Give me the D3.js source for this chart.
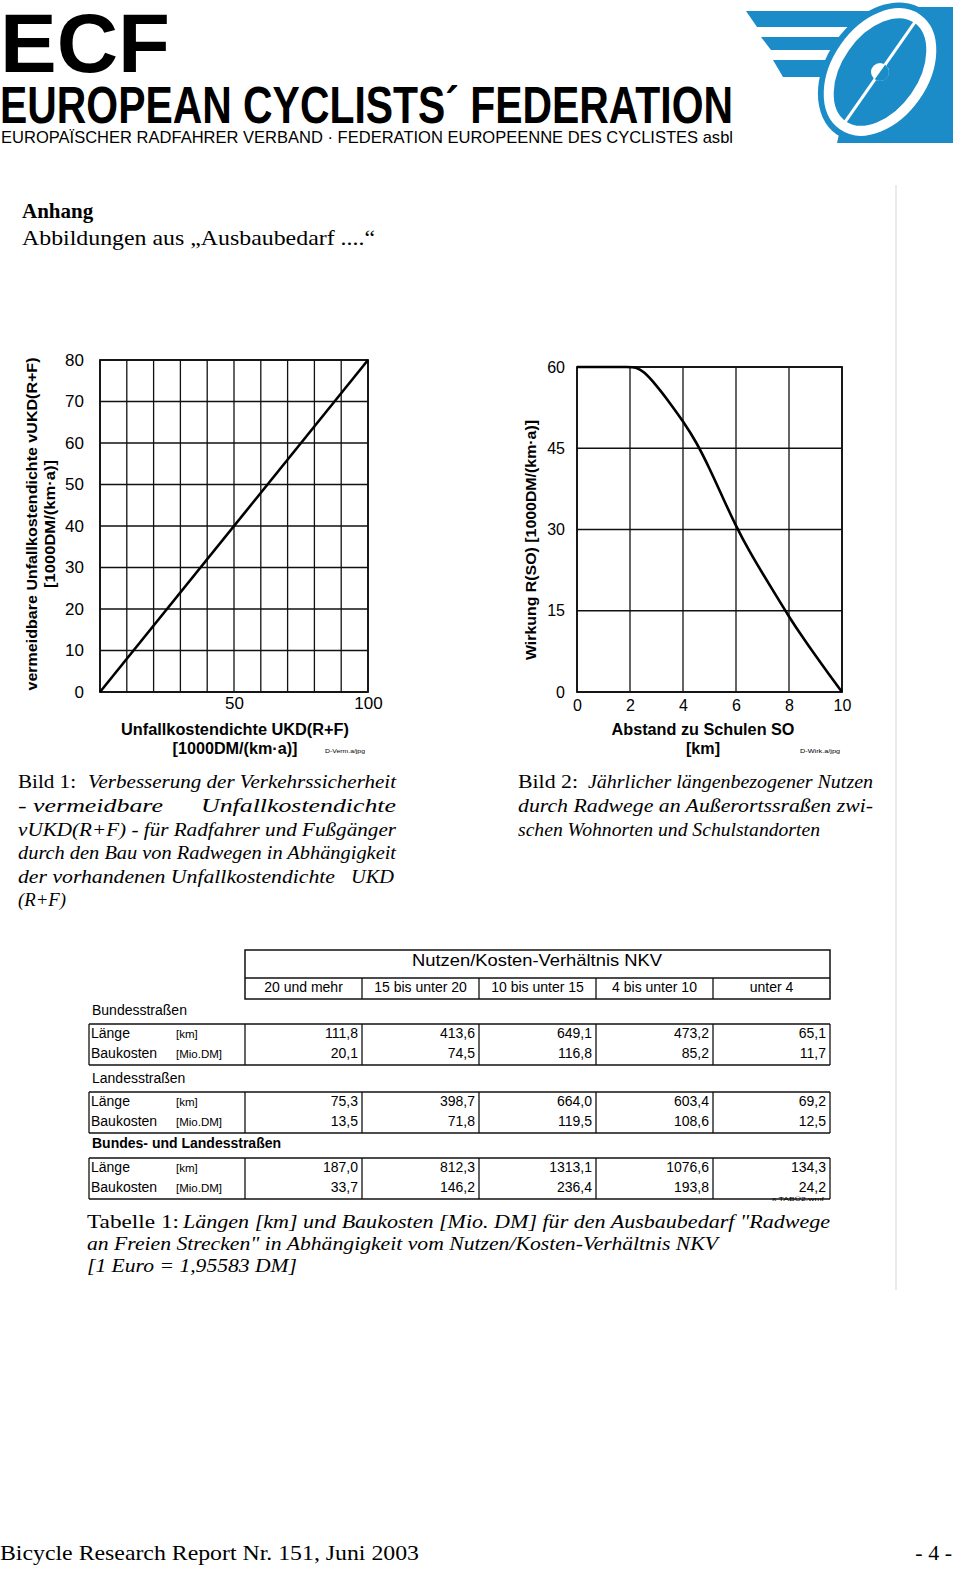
<!DOCTYPE html>
<html>
<head>
<meta charset="utf-8">
<script src="https://cdn.jsdelivr.net/npm/d3@7"></script>
<style>
  body { margin: 0; background: #fff; }
  svg { display: block; }
</style>
</head>
<body>
<script>
// Bild 1: vermeidbare Unfallkostendichte vs. Unfallkostendichte
const ukdValues = [0, 100];
const vukdValues = [0, 80];
const ukdTickLabels = [50, 100];
const vukdTicks = [0, 10, 20, 30, 40, 50, 60, 70, 80];

// Bild 2: Wirkung R(SO) vs. Abstand zu Schulen
const abstandKm = [0, 1, 2, 2.2, 2.5, 3, 3.5, 4, 4.5, 5, 5.5, 6, 6.5, 7, 7.5, 8, 8.5, 9, 9.5, 10];
const wirkung = [60, 60, 60, 60, 59.3, 56.6, 53.4, 50, 46.2, 41.3, 35.9, 30.6, 26.0, 21.9, 17.9, 13.9, 10.2, 6.7, 3.3, 0];
const abstandTicks = [0, 2, 4, 6, 8, 10];
const wirkungTicks = [0, 15, 30, 45, 60];

// Tabelle 1
const nkvClasses = ['20 und mehr', '15 bis unter 20', '10 bis unter 15', '4 bis unter 10', 'unter 4'];
const roadGroups = ['Bundesstraßen', 'Landesstraßen', 'Bundes- und Landesstraßen'];
const rowLabels = [['Länge', '[km]'], ['Baukosten', '[Mio.DM]']];
const laengeKm = [
  [111.8, 413.6, 649.1, 473.2, 65.1],
  [75.3, 398.7, 664.0, 603.4, 69.2],
  [187.0, 812.3, 1313.1, 1076.6, 134.3]
];
const baukostenMio = [
  [20.1, 74.5, 116.8, 85.2, 11.7],
  [13.5, 71.8, 119.5, 108.6, 12.5],
  [33.7, 146.2, 236.4, 193.8, 24.2]
];

const W = 960, H = 1573;
const sans = "'Liberation Sans', Arial, sans-serif";
const serif = "'Liberation Serif', 'Times New Roman', serif";
const blue = '#1b8cc7';

const svg = d3.select('body').append('svg').attr('width', W).attr('height', H);
svg.append('rect').attr('width', W).attr('height', H).attr('fill', '#fff');

// ---------- header ----------
function txt(g, x, y, s, opts) {
  const t = g.append('text').attr('x', x).attr('y', y).text(s)
    .attr('font-family', opts.family || sans)
    .attr('font-size', opts.size)
    .attr('fill', opts.fill || '#000');
  if (opts.weight) t.attr('font-weight', opts.weight);
  if (opts.style) t.attr('font-style', opts.style);
  if (opts.anchor) t.attr('text-anchor', opts.anchor);
  if (opts.len) t.attr('textLength', opts.len).attr('lengthAdjust', 'spacingAndGlyphs');
  return t;
}

txt(svg, 0, 72, 'ECF', { size: 84, weight: 'bold', len: 170 });
txt(svg, 0, 123, 'EUROPEAN CYCLISTS\u00b4 FEDERATION', { size: 52, weight: 'bold', len: 733 });
txt(svg, 1, 143, 'EUROPA\u00cfSCHER RADFAHRER VERBAND \u00b7 FEDERATION EUROPEENNE DES CYCLISTES asbl', { size: 17, len: 732 });

// logo
const logo = svg.append('g');
const stripes = [
  [[746, 11], [900, 11], [890, 27], [757, 27]],
  [[761, 37], [870, 37], [862, 50], [771, 50]],
  [[773, 60], [860, 60], [852, 77], [783, 77]]
];
logo.selectAll('polygon.stripe').data(stripes).enter().append('polygon')
  .attr('points', d => d.map(p => p.join(',')).join(' '))
  .attr('fill', blue);
logo.append('rect').attr('x', 905).attr('y', 7).attr('width', 48).attr('height', 136).attr('fill', blue);
logo.append('polygon').attr('points', '837,143 953,143 953,108 845,108').attr('fill', blue);
logo.append('ellipse').attr('rx', 76).attr('ry', 54)
  .attr('transform', 'translate(880,72) rotate(-55)').attr('fill', blue);
logo.append('ellipse').attr('rx', 65).attr('ry', 43)
  .attr('transform', 'translate(880,72) rotate(-55)')
  .attr('fill', 'none').attr('stroke', '#fff').attr('stroke-width', 10);
logo.append('line').attr('x1', -62).attr('y1', 0).attr('x2', 62).attr('y2', 0)
  .attr('transform', 'translate(880,72) rotate(-55)')
  .attr('stroke', '#fff').attr('stroke-width', 3);
logo.append('circle').attr('cx', 880).attr('cy', 72).attr('r', 9).attr('fill', '#fff');
logo.append('path').attr('d', 'M880,63 A9,9 0 0,1 880,81 Z').attr('fill', blue)
  .attr('transform', 'rotate(35,880,72)');

// page titles
txt(svg, 22, 218, 'Anhang', { family: serif, size: 21, weight: 'bold' });
txt(svg, 22, 245, 'Abbildungen aus \u201eAusbaubedarf ....\u201c', { family: serif, size: 21, len: 353 });

// light vertical rule on the right
svg.append('line').attr('x1', 896).attr('x2', 896).attr('y1', 185).attr('y2', 1290)
  .attr('stroke', '#dcdcdc').attr('stroke-width', 1.2);

// ---------- Bild 1 ----------
const x1 = d3.scaleLinear().domain([0, 100]).range([100, 368]);
const y1 = d3.scaleLinear().domain([0, 80]).range([692, 360]);
const c1 = svg.append('g');

c1.selectAll('line.vg').data(d3.range(0, 101, 10)).enter().append('line')
  .attr('x1', d => x1(d)).attr('x2', d => x1(d))
  .attr('y1', y1(0)).attr('y2', y1(80))
  .attr('stroke', '#111').attr('stroke-width', 1.3);
c1.selectAll('line.hg').data(vukdTicks).enter().append('line')
  .attr('x1', x1(0)).attr('x2', x1(100))
  .attr('y1', d => y1(d)).attr('y2', d => y1(d))
  .attr('stroke', '#111').attr('stroke-width', 1.3);
c1.append('rect').attr('x', x1(0)).attr('y', y1(80))
  .attr('width', x1(100) - x1(0)).attr('height', y1(0) - y1(80))
  .attr('fill', 'none').attr('stroke', '#111').attr('stroke-width', 1.8);

c1.append('path')
  .datum(ukdValues.map((v, i) => [v, vukdValues[i]]))
  .attr('d', d3.line().x(d => x1(d[0])).y(d => y1(d[1])))
  .attr('fill', 'none').attr('stroke', '#000').attr('stroke-width', 2.6);

const ay1 = c1.append('g').attr('transform', `translate(${x1(0)},0)`)
  .call(d3.axisLeft(y1).tickValues(vukdTicks).tickSize(0).tickPadding(16));
const ax1 = c1.append('g').attr('transform', `translate(0,${y1(0)})`)
  .call(d3.axisBottom(x1).tickValues(ukdTickLabels).tickSize(0).tickPadding(5));
[ay1, ax1].forEach(a => {
  a.select('.domain').remove();
  a.selectAll('text').attr('font-family', sans).attr('font-size', 17).attr('fill', '#000');
});

const yt1 = c1.append('g').attr('transform', 'translate(37,524) rotate(-90)');
txt(yt1, 0, 0, 'vermeidbare Unfallkostendichte vUKD(R+F)', { size: 15, weight: 'bold', anchor: 'middle', len: 333 });
txt(yt1, 0, 18, '[1000DM/(km\u00b7a)]', { size: 15, weight: 'bold', anchor: 'middle', len: 128 });
txt(c1, 235, 735, 'Unfallkostendichte UKD(R+F)', { size: 16, weight: 'bold', anchor: 'middle', len: 228 });
txt(c1, 235, 754, '[1000DM/(km\u00b7a)]', { size: 16, weight: 'bold', anchor: 'middle', len: 125 });
txt(c1, 325, 753, 'D-Verm.a/jpg', { size: 5, len: 40 });

// ---------- Bild 2 ----------
const x2 = d3.scaleLinear().domain([0, 10]).range([577, 842]);
const y2 = d3.scaleLinear().domain([0, 60]).range([692, 367]);
const c2 = svg.append('g');

c2.selectAll('line.vg').data(abstandTicks).enter().append('line')
  .attr('x1', d => x2(d)).attr('x2', d => x2(d))
  .attr('y1', y2(0)).attr('y2', y2(60))
  .attr('stroke', '#111').attr('stroke-width', 1.3);
c2.selectAll('line.hg').data(wirkungTicks).enter().append('line')
  .attr('x1', x2(0)).attr('x2', x2(10))
  .attr('y1', d => y2(d)).attr('y2', d => y2(d))
  .attr('stroke', '#111').attr('stroke-width', 1.3);
c2.append('rect').attr('x', x2(0)).attr('y', y2(60))
  .attr('width', x2(10) - x2(0)).attr('height', y2(0) - y2(60))
  .attr('fill', 'none').attr('stroke', '#111').attr('stroke-width', 1.8);

c2.append('path')
  .datum(abstandKm.map((v, i) => [v, wirkung[i]]))
  .attr('d', d3.line().curve(d3.curveBasis).x(d => x2(d[0])).y(d => y2(d[1])))
  .attr('fill', 'none').attr('stroke', '#000').attr('stroke-width', 2.6);

const ay2 = c2.append('g').attr('transform', `translate(${x2(0)},0)`)
  .call(d3.axisLeft(y2).tickValues(wirkungTicks).tickSize(0).tickPadding(12));
const ax2 = c2.append('g').attr('transform', `translate(0,${y2(0)})`)
  .call(d3.axisBottom(x2).tickValues(abstandTicks).tickSize(0).tickPadding(8));
[ay2, ax2].forEach(a => {
  a.select('.domain').remove();
  a.selectAll('text').attr('font-family', sans).attr('font-size', 16).attr('fill', '#000');
});

const yt2 = c2.append('g').attr('transform', 'translate(536,540) rotate(-90)');
txt(yt2, 0, 0, 'Wirkung R(SO) [1000DM/(km\u00b7a)]', { size: 15, weight: 'bold', anchor: 'middle', len: 240 });
txt(c2, 703, 735, 'Abstand zu Schulen SO', { size: 16, weight: 'bold', anchor: 'middle', len: 183 });
txt(c2, 703, 754, '[km]', { size: 16, weight: 'bold', anchor: 'middle', len: 34 });
txt(c2, 800, 753, 'D-Wirk.a/jpg', { size: 5, len: 40 });

// ---------- captions ----------
function captionLine(x, y, parts) {
  parts.forEach(p => txt(svg, p.x, y, p.t, { family: serif, size: 19, style: p.up ? null : 'italic', len: p.w }));
}
captionLine(18, 788, [{ x: 18, t: 'Bild 1:', up: true, w: 58 }, { x: 88, t: 'Verbesserung der Verkehrssicherheit', w: 308 }]);
captionLine(18, 812, [{ x: 18, t: '- vermeidbare', w: 145 }, { x: 201, t: 'Unfallkostendichte', w: 195 }]);
captionLine(18, 836, [{ x: 18, t: 'vUKD(R+F) - f\u00fcr Radfahrer und Fu\u00dfg\u00e4nger', w: 378 }]);
captionLine(18, 859, [{ x: 18, t: 'durch den Bau von Radwegen in Abh\u00e4ngigkeit', w: 378 }]);
captionLine(18, 883, [{ x: 18, t: 'der vorhandenen Unfallkostendichte', w: 317 }, { x: 351, t: 'UKD', w: 43 }]);
captionLine(18, 906, [{ x: 18, t: '(R+F)', w: 48 }]);

captionLine(518, 788, [{ x: 518, t: 'Bild 2:', up: true, w: 60 }, { x: 588, t: 'J\u00e4hrlicher l\u00e4ngenbezogener Nutzen', w: 285 }]);
captionLine(518, 812, [{ x: 518, t: 'durch Radwege an Au\u00dferortssra\u00dfen zwi-', w: 355 }]);
captionLine(518, 836, [{ x: 518, t: 'schen Wohnorten und Schulstandorten', w: 302 }]);

// ---------- table ----------
const fmt = d3.formatLocale({ decimal: ',', thousands: '.', grouping: [3], currency: ['', ''] }).format('.1f');
const colEdges = [245, 362, 479, 596, 713, 830];
const tb = svg.append('g');
const ln = (x1_, y1_, x2_, y2_, w) => tb.append('line')
  .attr('x1', x1_).attr('y1', y1_).attr('x2', x2_).attr('y2', y2_)
  .attr('stroke', '#111').attr('stroke-width', w || 1.3);

// header box
tb.append('rect').attr('x', 245).attr('y', 950).attr('width', 585).attr('height', 49)
  .attr('fill', 'none').attr('stroke', '#111').attr('stroke-width', 1.5);
ln(245, 978, 830, 978);
colEdges.slice(1, -1).forEach(x => ln(x, 978, x, 999));
txt(tb, 537, 966, 'Nutzen/Kosten-Verh\u00e4ltnis NKV', { size: 17, anchor: 'middle', len: 250 });
tb.selectAll('text.nkv').data(nkvClasses).enter().append('text')
  .attr('x', (d, i) => (colEdges[i] + colEdges[i + 1]) / 2)
  .attr('y', 992)
  .attr('text-anchor', 'middle')
  .attr('font-family', sans).attr('font-size', 14)
  .text(d => d);

const groupTop = [1024, 1092, 1158];
const groupLabelY = [1015, 1083, 1148];
roadGroups.forEach((g, gi) => {
  const top = groupTop[gi], bot = top + 41;
  txt(tb, 92, groupLabelY[gi], g, { size: 14, weight: gi === 2 ? 'bold' : null });
  ln(89, top, 830, top, 1.6);
  ln(89, bot, 830, bot, 1.6);
  [89].concat(colEdges).forEach(x => ln(x, top, x, bot, 1.3));
  const rows = [laengeKm[gi], baukostenMio[gi]];
  rows.forEach((vals, ri) => {
    const yb = top + 14 + ri * 20;
    txt(tb, 91, yb, rowLabels[ri][0], { size: 14 });
    txt(tb, 176, yb, rowLabels[ri][1], { size: 11.5 });
    tb.selectAll(null).data(vals).enter().append('text')
      .attr('x', (d, i) => colEdges[i + 1] - 4)
      .attr('y', yb)
      .attr('text-anchor', 'end')
      .attr('font-family', sans).attr('font-size', 14)
      .text(d => fmt(d));
  });
});
txt(tb, 772, 1201, 'x TAB\u00dc2.wmf', { size: 5, len: 52 });

captionLine(87, 1228, [{ x: 87, t: 'Tabelle 1:', up: true, w: 92 }, { x: 183, t: 'L\u00e4ngen [km] und Baukosten [Mio. DM] f\u00fcr den Ausbaubedarf "Radwege', w: 647 }]);
captionLine(87, 1250, [{ x: 87, t: 'an Freien Strecken" in Abh\u00e4ngigkeit vom Nutzen/Kosten-Verh\u00e4ltnis NKV', w: 631 }]);
captionLine(87, 1272, [{ x: 87, t: '[1 Euro = 1,95583 DM]', w: 210 }]);

// ---------- footer ----------
txt(svg, 0, 1560, 'Bicycle Research Report Nr. 151, Juni 2003', { family: serif, size: 22, len: 419 });
txt(svg, 952, 1560, '- 4 -', { family: serif, size: 22, anchor: 'end' });
</script>
</body>
</html>
